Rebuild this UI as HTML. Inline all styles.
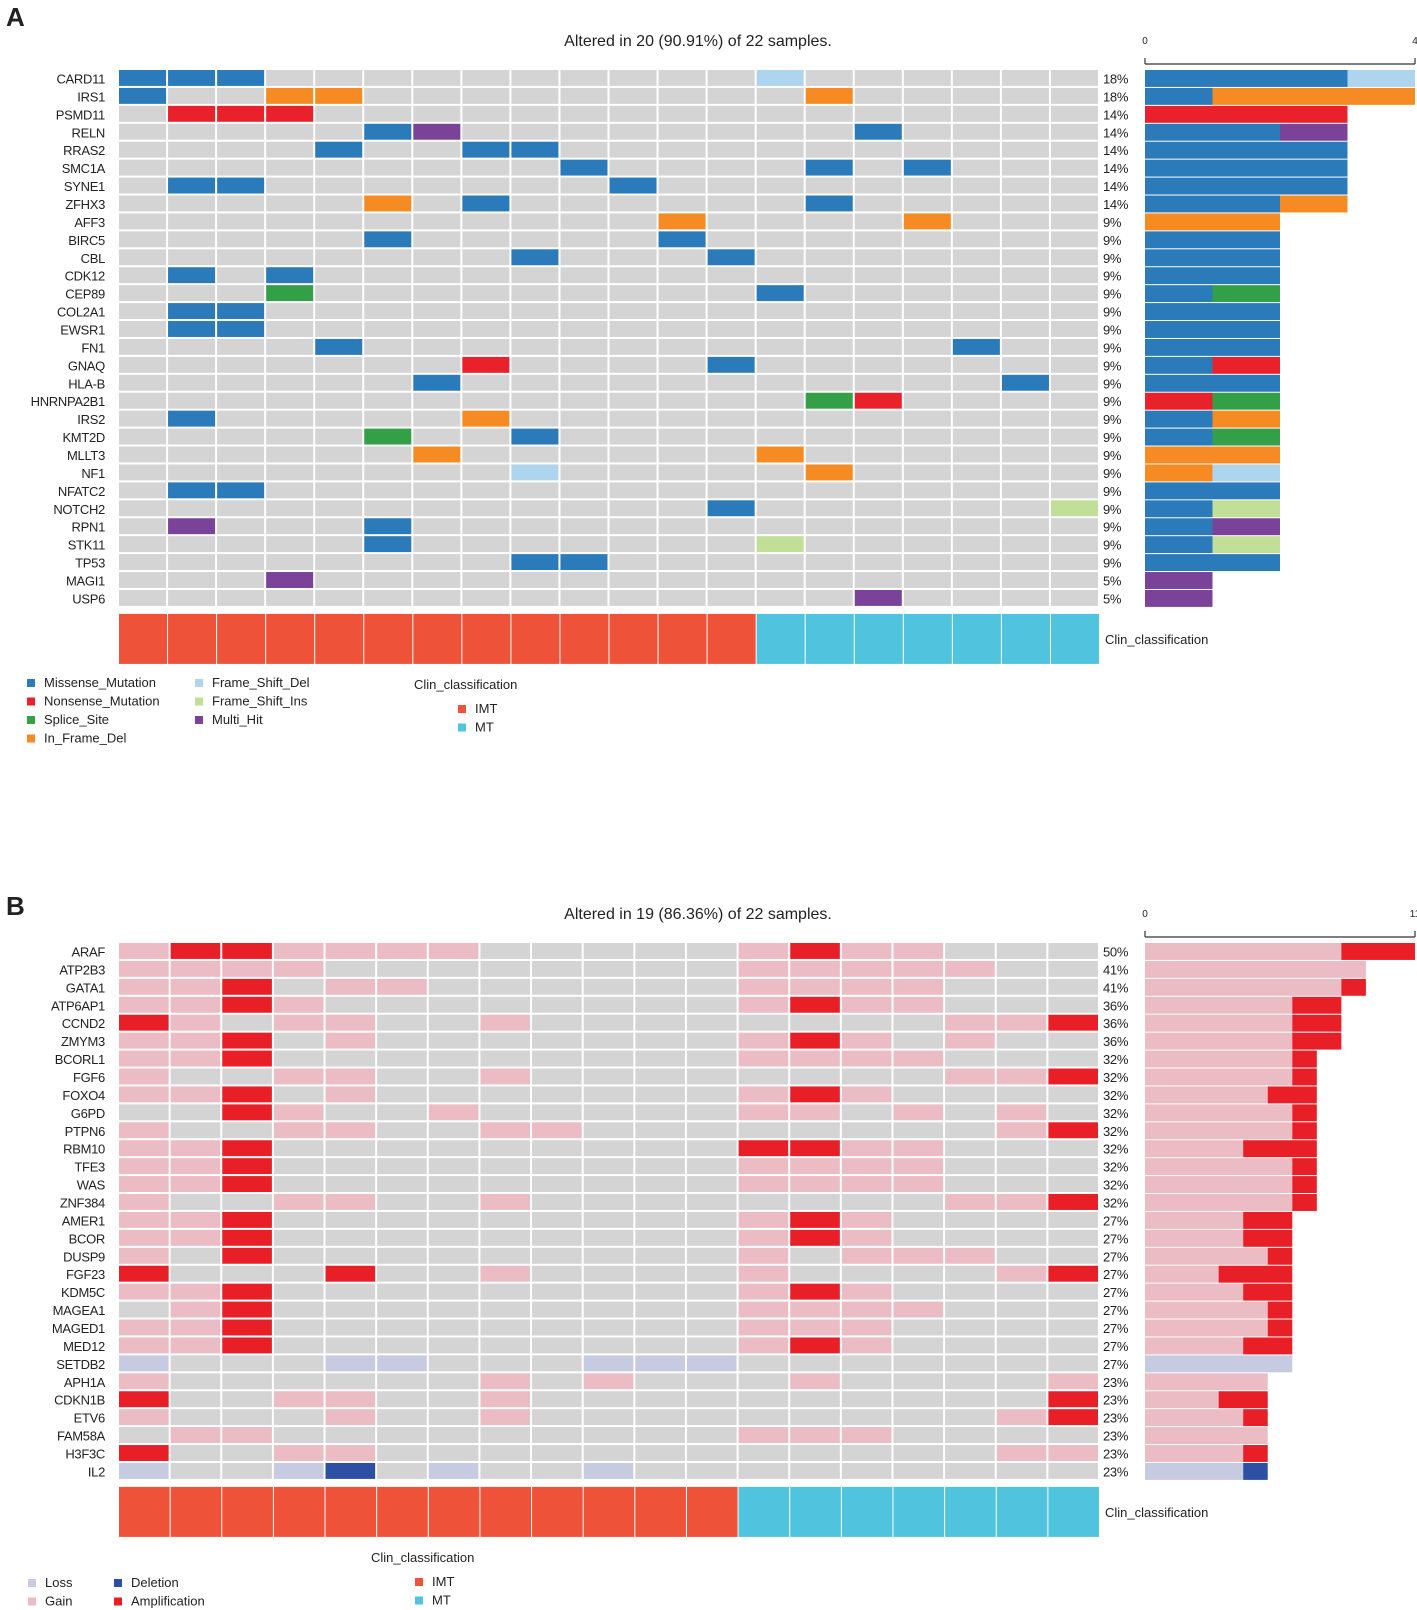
<!DOCTYPE html>
<html><head><meta charset="utf-8"><style>
body{margin:0;background:#fff;}
svg{display:block;font-family:"Liberation Sans",sans-serif;}
.g{font-size:13px;fill:#222;letter-spacing:-0.3px}
</style></head><body>
<svg id="c" width="1417" height="1610" viewBox="0 0 1417 1610"></svg>
<script>
// ---- Panel A data ----
const genesA=["CARD11","IRS1","PSMD11","RELN","RRAS2","SMC1A","SYNE1","ZFHX3","AFF3","BIRC5","CBL","CDK12","CEP89","COL2A1","EWSR1","FN1","GNAQ","HLA-B","HNRNPA2B1","IRS2","KMT2D","MLLT3","NF1","NFATC2","NOTCH2","RPN1","STK11","TP53","MAGI1","USP6"];
const matA=["MMM..........F......","M..II.........I.....",".NNN................",".....MH........M....","....M..MM...........",".........M....M.M...",".MM.......M.........",".....I.M......M.....","...........I....I...",".....M.....M........","........M...M.......",".M.M................","...S.........M......",".MM.................",".MM.................","....M............M..",".......N....M.......","......M...........M.","..............SN....",".M.....I............",".....S..M...........","......I......I......","........F.....I.....",".MM.................","............M......P",".H...M..............",".....M.......P......","........MM..........","...H................","...............H...."];
const clinA=["IMT","IMT","IMT","IMT","IMT","IMT","IMT","IMT","IMT","IMT","IMT","IMT","IMT","MT","MT","MT","MT","MT","MT","MT"];
const ticksA=[0,4];
const titleA="Altered in 20 (90.91%) of 22 samples.";
// ---- Panel B data ----
const genesB=["ARAF","ATP2B3","GATA1","ATP6AP1","CCND2","ZMYM3","BCORL1","FGF6","FOXO4","G6PD","PTPN6","RBM10","TFE3","WAS","ZNF384","AMER1","BCOR","DUSP9","FGF23","KDM5C","MAGEA1","MAGED1","MED12","SETDB2","APH1A","CDKN1B","ETV6","FAM58A","H3F3C","IL2"];
const matB=["GAAGGGG.....GAGG...","GGGG........GGGGG..","GGA.GG......GGGG...","GGAG........GAGG...","AG.GG..G........GGA","GGA.G.......GAG.G..","GGA.........GGGG...","G..GG..G........GGA","GGA.G.......GAG....","..AG..G.....GG.G.G.","G..GG..GG........GA","GGA.........AAGG...","GGA.........GGGG...","GGA.........GGGG...","G..GG..G........GGA","GGA.........GAG....","GGA.........GAG....","G.A.........G.GGG..","A...A..G....G....GA","GGA.........GAG....",".GA.........GGGG...","GGA.........GGG....","GGA.........GAG....","L...LL...LLL.......","G......G.G...G....G","A..GG..G..........A","G...G..G.........GA",".GG.........GGG....","A..GG............GG","L..LD.L..L........."];
const clinB=["IMT","IMT","IMT","IMT","IMT","IMT","IMT","IMT","IMT","IMT","IMT","IMT","MT","MT","MT","MT","MT","MT","MT"];
const ticksB=[0,11];
const titleB="Altered in 19 (86.36%) of 22 samples.";
const NSAMP=22;

const colA={M:"#2b7bbb",N:"#e8212a",S:"#33a047",I:"#f58b22",F:"#afd5ee",P:"#c1df97",H:"#7a4399"};
const nameA={M:"missense",N:"nonsense",S:"splice-site",I:"in-frame-del",F:"frame-shift-del",P:"frame-shift-ins",H:"multi-hit"};
const orderA="MNSIFPH";
const colB={L:"#c6cbe1",G:"#ebbcc3",A:"#e81f27",D:"#2e50a4"};
const nameB={L:"loss",G:"gain",A:"amplification",D:"deletion"};
const orderB="LGAD";
const clinCol={IMT:"#ee5239",MT:"#50c4de"};

const svg=document.getElementById('c');
const NS="http://www.w3.org/2000/svg";
function mk(tag,attrs,parent){const e=document.createElementNS(NS,tag);for(const k in attrs)e.setAttribute(k,attrs[k]);(parent||svg).appendChild(e);return e;}
function txt(x,y,s,size,anchor,parent){const t=mk('text',{x:x,y:y,'font-size':size,'text-anchor':anchor||'start',fill:'#222'},parent);t.textContent=s;return t;}

function panel(cfg){
  const g=mk('g',{});
  
  
  const x0=119,x1=1100,nc=cfg.mat[0].length,cw=(x1-x0)/nc,rh=17.93,y0=cfg.y0;
  const lab=txt(6,cfg.labY,cfg.letter,26,'start',g);lab.setAttribute('font-weight','bold');
  
  const ti=txt(698,cfg.titleY,cfg.title,16,'middle',g);
  
  // bar axis
  const bx0=1145,bx1=1415,maxV=cfg.ticks[cfg.ticks.length-1];
  const sx=v=>bx0+(bx1-bx0)*v/maxV;
  const ax=mk('path',{d:`M${bx0},${cfg.axisY} V${cfg.axisY+6} M${bx0},${cfg.axisY+6} H${bx1} M${bx1},${cfg.axisY} V${cfg.axisY+6}`,stroke:'#333','stroke-width':1.2,fill:'none'},g);
  
  cfg.ticks.forEach(t=>{const e=txt(sx(t),cfg.axisY-14,String(t),10,'middle',g);});
  cfg.genes.forEach((gn,r)=>{
    const y=y0+r*rh;
    const gl=txt(105,y+rh/2+4.5,gn,13,'end',g);gl.setAttribute('class','g');
    
    const row=cfg.mat[r];const counts={};let n=0;
    for(let c=0;c<nc;c++){
      const ch=row[c];
      const rc=mk('rect',{x:x0+c*cw,y:y,width:cw-2,height:rh-2,fill:ch==='.'?'#d4d4d4':cfg.col[ch]},g);
      
      
      if(ch!=='.'){counts[ch]=(counts[ch]||0)+1;n++;}
    }
    const p=txt(1103,y+rh/2+4.5,Math.round(n/NSAMP*100)+'%',13,'start',g);p.setAttribute('class','g');
    
    let acc=0;
    for(const k of cfg.order){if(counts[k]){
      const b=mk('rect',{x:sx(acc),y:y,width:sx(acc+counts[k])-sx(acc),height:rh-1,fill:cfg.col[k]},g);
      
      
      acc+=counts[k];}}
  });
  const cy=y0+cfg.genes.length*rh+6;
  cfg.clin.forEach((cl,c)=>{
    const r=mk('rect',{x:x0+c*cw,y:cy,width:cw-1,height:cfg.clinH,fill:clinCol[cl]},g);
    
    
  });
  const cl=txt(1105,cy+cfg.clinH/2+5,'Clin_classification',13,'start',g);
  
  return g;
}
panel({id:'panel-a',letter:'A',labY:26,title:titleA,titleY:46,axisY:58,ticks:ticksA,genes:genesA,mat:matA,clin:clinA,col:colA,names:nameA,order:orderA,y0:70,clinH:50});
panel({id:'panel-b',letter:'B',labY:915,title:titleB,titleY:919,axisY:931,ticks:ticksB,genes:genesB,mat:matB,clin:clinB,col:colB,names:nameB,order:orderB,y0:943,clinH:50});

function legend(items,x,y,dy){
  items.forEach((it,i)=>{
    const yy=y+i*dy;
    const s=mk('rect',{x:x,y:yy-8,width:8,height:8,fill:it[1]});
    
    const t=txt(x+17,yy,it[0],13,'start');
    
  });
}
legend([["Missense_Mutation",colA.M],["Nonsense_Mutation",colA.N],["Splice_Site",colA.S],["In_Frame_Del",colA.I]],27,687,18.5);
legend([["Frame_Shift_Del",colA.F],["Frame_Shift_Ins",colA.P],["Multi_Hit",colA.H]],195,687,18.5);
let t1=txt(414,689,'Clin_classification',13);
legend([["IMT",clinCol.IMT],["MT",clinCol.MT]],458,713,18.5);
legend([["Loss",colB.L],["Gain",colB.G]],28,1587,18.5);
legend([["Deletion",colB.D],["Amplification",colB.A]],114,1587,18.5);
let t2=txt(371,1562,'Clin_classification',13);
legend([["IMT",clinCol.IMT],["MT",clinCol.MT]],415,1586,18.5);
</script>
</body></html>
